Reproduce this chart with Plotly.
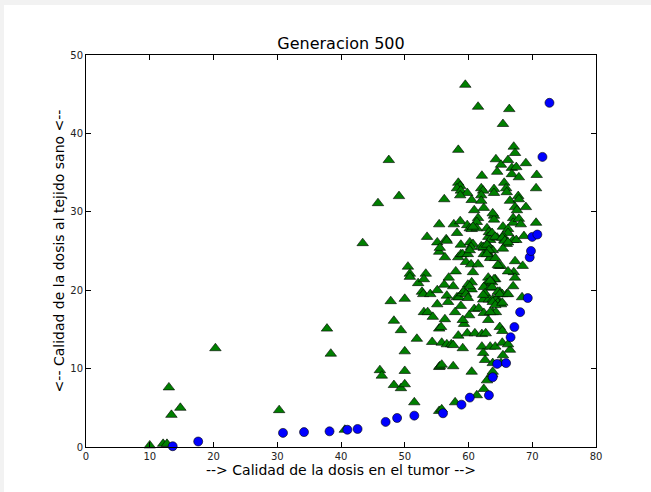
import plotly.graph_objects as go

# Blue circles (dosis en tumor, dosis tejido sano)
blue_x = [13.6, 17.6, 30.9, 34.2, 38.2, 41.0, 42.6, 47.0, 48.8, 51.5, 56.0, 58.9, 60.2,
          63.2, 63.8, 64.5, 65.9, 66.6, 67.2, 68.1, 69.3, 69.6, 69.8, 70.0, 70.8, 71.6, 72.7]
blue_y = [0.1, 0.7, 1.8, 1.9, 2.0, 2.2, 2.3, 3.2, 3.7, 4.0, 4.3, 5.4, 6.3,
          6.6, 8.9, 10.6, 10.7, 14.0, 15.3, 17.2, 19.0, 24.2, 25.0, 26.8, 27.1, 37.0, 43.9]

# Green triangles
green_pts = [
    (10.0, 0.2), (12.1, 0.4), (12.7, 0.4), (13.0, 7.6), (13.4, 4.1), (14.8, 5.0), (20.3, 12.6),
    (30.3, 4.7), (37.8, 15.1), (38.4, 11.9), (40.6, 2.2),
    (47.5, 36.6), (49.1, 32.0), (45.8, 31.1), (43.4, 26.0), (55.4, 28.4), (53.5, 26.8), (55.1, 26.1),
    (55.4, 24.9), (50.5, 23.0), (50.8, 22.1), (50.8, 21.7), (52.1, 20.9), (53.3, 22.1), (53.0, 21.4),
    (52.7, 19.8), (52.9, 19.5), (54.0, 19.5), (55.1, 20.0), (55.1, 18.2), (47.8, 18.6), (50.0, 18.9),
    (48.3, 16.1), (49.4, 14.9), (53.0, 17.2), (53.6, 17.2), (54.4, 16.6), (55.4, 15.1), (51.9, 13.8),
    (54.3, 13.4), (50.0, 12.2), (46.1, 9.8), (46.4, 9.1), (50.0, 9.7), (48.3, 7.9), (49.4, 7.5),
    (50.0, 8.0), (55.4, 10.2), (51.5, 5.7), (55.4, 4.6),
    (59.5, 46.2), (61.5, 43.4), (58.4, 37.9), (64.3, 36.7), (64.5, 35.1), (62.1, 34.6), (56.2, 31.6),
    (58.4, 33.7), (58.7, 33.3), (58.2, 33.0), (58.8, 32.7), (59.8, 32.4), (62.0, 33.0), (62.3, 32.7),
    (62.0, 32.1), (64.0, 32.9), (64.0, 32.4), (60.5, 31.5), (62.4, 30.5), (60.9, 30.2), (61.5, 29.2),
    (61.3, 28.7), (64.0, 29.5), (64.0, 29.0), (57.7, 28.4), (58.7, 28.8), (59.8, 28.3), (60.2, 27.9),
    (60.5, 27.8), (58.2, 27.3), (62.9, 27.9), (63.2, 27.4), (63.1, 26.8), (63.4, 26.4), (63.2, 25.6),
    (56.5, 26.5), (56.6, 26.3), (60.2, 26.1), (60.7, 25.9), (58.8, 25.8), (62.0, 25.6), (62.4, 25.4),
    (62.9, 24.9), (62.4, 24.6), (63.5, 24.2), (56.3, 24.2), (58.4, 24.2), (58.8, 24.6), (59.1, 24.6),
    (59.9, 24.6), (59.6, 23.6), (60.4, 23.3), (61.5, 23.3), (60.7, 22.3), (58.0, 22.4), (56.9, 21.6),
    (57.6, 20.5), (56.2, 20.7), (60.5, 21.0), (59.9, 20.7), (60.5, 20.1), (63.1, 21.6), (62.9, 20.9),
    (62.4, 20.4), (63.4, 20.3), (64.2, 21.4), (58.2, 19.1), (58.5, 19.1), (59.0, 19.6), (59.3, 19.9),
    (59.6, 19.5), (59.9, 19.0), (56.6, 19.3), (56.8, 18.5), (62.6, 19.6), (62.3, 18.8), (63.2, 18.8),
    (63.8, 18.8), (64.6, 18.8), (58.8, 18.0), (60.9, 17.6), (61.6, 17.7), (62.4, 17.1), (63.1, 16.2),
    (56.3, 16.3), (60.1, 16.8), (59.3, 15.7), (55.7, 15.3), (55.8, 13.3), (56.6, 13.1), (57.3, 13.1),
    (57.6, 13.0), (58.4, 14.2), (59.1, 12.6), (59.8, 14.5), (61.0, 14.5), (62.1, 14.4), (62.7, 14.5),
    (62.1, 12.8), (62.3, 12.0), (62.6, 11.1), (63.4, 12.8), (64.2, 12.8), (55.5, 10.3), (55.8, 10.5),
    (57.6, 10.3), (60.5, 9.6), (62.9, 8.5), (63.7, 9.3), (62.4, 7.4), (61.3, 6.6), (57.9, 5.7),
    (55.8, 4.8),
    (66.4, 43.1), (65.4, 41.2), (67.1, 38.3), (67.3, 37.5), (65.1, 36.0), (66.2, 36.6), (66.8, 35.6),
    (67.5, 35.7), (66.8, 34.8), (67.9, 34.4), (69.0, 36.2), (70.7, 34.7), (70.6, 33.0), (65.6, 33.7),
    (65.9, 33.0), (66.0, 32.5), (66.5, 31.4), (67.8, 32.0), (67.9, 31.6), (67.3, 30.6), (69.0, 30.6),
    (67.0, 29.2), (67.0, 28.6), (67.9, 29.1), (68.2, 28.4), (70.6, 28.6), (65.4, 28.1), (66.2, 27.8),
    (66.2, 27.3), (65.4, 26.9), (63.7, 27.3), (67.0, 26.4), (67.5, 26.4), (68.7, 26.9), (64.5, 26.7),
    (65.6, 26.4), (66.0, 25.9), (65.4, 25.3),
    (67.3, 23.7), (68.5, 23.1), (67.1, 22.3), (67.3, 21.6), (67.0, 20.5), (68.4, 19.1), (66.5, 12.4),
    (63.8, 25.1), (63.4, 24.1), (64.2, 24.1), (64.8, 23.1), (65.1, 23.1), (66.2, 22.4), (64.0, 21.4),
    (63.7, 21.0), (63.7, 20.4), (64.9, 19.8), (66.0, 19.5), (65.3, 19.5), (64.3, 18.8), (64.6, 18.4),
    (65.1, 18.2), (63.8, 17.2), (64.3, 17.2), (64.9, 15.3), (65.3, 14.8), (65.3, 13.3), (66.2, 13.1),
    (65.4, 11.7), (63.8, 10.7), (65.1, 10.7), (63.8, 9.6),
    (58.7, 32.1), (62.0, 31.4), (63.8, 29.8), (67.6, 30.2), (61.3, 27.9), (60.7, 28.1), (64.2, 26.8),
    (65.3, 26.7), (65.7, 26.3), (66.2, 26.1), (62.3, 25.5), (62.9, 25.8), (63.2, 25.1), (60.4, 25.5),
    (60.2, 25.1), (62.9, 24.6), (64.6, 23.2), (55.5, 25.4), (60.2, 20.5), (63.4, 21.2), (64.6, 19.8),
    (64.9, 19.5), (66.2, 19.5), (62.3, 19.4), (63.8, 18.5), (64.2, 18.1), (65.3, 18.4), (63.4, 17.2),
    (57.9, 17.2), (59.1, 16.2),
]
green_x = [p[0] for p in green_pts]
green_y = [p[1] for p in green_pts]

x_ticks = [0, 10, 20, 30, 40, 50, 60, 70, 80]
y_ticks = [0, 10, 20, 30, 40, 50]

W, H = 651, 492
ML, MR, MT, MB = 86, 55, 55, 45
PW, PH = W - ML - MR, H - MT - MB

fig = go.Figure()
fig.add_trace(go.Scatter(
    x=green_x, y=green_y, mode="markers",
    marker=dict(symbol="triangle-up", size=10, color="#007f00",
                line=dict(color="black", width=0.6)),
    showlegend=False, cliponaxis=False))
fig.add_trace(go.Scatter(
    x=blue_x, y=blue_y, mode="markers",
    marker=dict(symbol="circle", size=9, color="#0000ff",
                line=dict(color="black", width=0.6)),
    showlegend=False, cliponaxis=False))

axis_common = dict(
    showgrid=False, zeroline=False, showline=True, linecolor="black", linewidth=1,
    mirror="allticks", ticks="inside", ticklen=5, tickcolor="black", tickwidth=1,
    tickfont=dict(family="DejaVu Sans", size=10, color="#222222"),
)

gray = "#f2f2f2"
fig.update_layout(
    width=W, height=H,
    margin=dict(l=ML, r=MR, t=MT, b=MB),
    paper_bgcolor="white", plot_bgcolor="white",
    font=dict(family="DejaVu Sans"),
    title=dict(text="Generacion 500", xref="paper", x=0.5, xanchor="center",
               y=1 - 43 / H, yanchor="middle",
               font=dict(family="DejaVu Sans", size=16, color="black")),
    xaxis=dict(range=[0, 80], tickvals=x_ticks, ticktext=[str(v) for v in x_ticks],
               title=dict(text="--> Calidad de la dosis en el tumor -->", standoff=2,
                          font=dict(size=14, color="black")),
               **axis_common),
    yaxis=dict(range=[0, 50], tickvals=y_ticks, ticktext=[str(v) for v in y_ticks],
               title=dict(text="<-- Calidad de la dosis al tejido sano <--", standoff=2,
                          font=dict(size=14, color="black")),
               **axis_common),
    shapes=[
        # page border strips (top and left) around the white figure
        dict(type="rect", xref="paper", yref="paper", layer="below",
             x0=-ML / PW, x1=(W - ML) / PW, y0=(PH + MT - 5) / PH, y1=(PH + MT) / PH,
             fillcolor=gray, line=dict(width=0)),
        dict(type="rect", xref="paper", yref="paper", layer="below",
             x0=-ML / PW, x1=(4 - ML) / PW, y0=-MB / PH, y1=(PH + MT) / PH,
             fillcolor=gray, line=dict(width=0)),
    ],
)

fig.write_html(
    "out.html",
    config={"displayModeBar": False},
    post_script=("document.body.style.margin='0';document.body.style.overflow='hidden';"
                 "document.documentElement.style.overflow='hidden';"
                 "document.body.style.background='white';"),
)
